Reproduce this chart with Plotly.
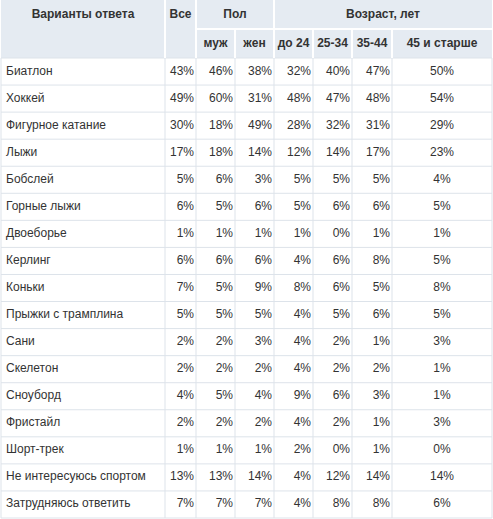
import plotly.graph_objects as go

answers = ["Биатлон", "Хоккей", "Фигурное катание", "Лыжи", "Бобслей", "Горные лыжи",
           "Двоеборье", "Керлинг", "Коньки", "Прыжки с трамплина", "Сани", "Скелетон",
           "Сноуборд", "Фристайл", "Шорт-трек", "Не интересуюсь спортом", "Затрудняюсь ответить"]
vse = [43, 49, 30, 17, 5, 6, 1, 6, 7, 5, 2, 2, 4, 2, 1, 13, 7]
muzh = [46, 60, 18, 18, 6, 5, 1, 6, 5, 5, 2, 2, 5, 2, 1, 13, 7]
zhen = [38, 31, 49, 14, 3, 6, 1, 6, 9, 5, 3, 2, 4, 2, 1, 14, 7]
do24 = [32, 48, 28, 12, 5, 5, 1, 4, 8, 4, 4, 4, 9, 4, 2, 4, 4]
a25_34 = [40, 47, 32, 14, 5, 6, 0, 6, 6, 5, 2, 2, 6, 2, 0, 12, 8]
a35_44 = [47, 48, 31, 17, 5, 6, 1, 8, 5, 6, 1, 2, 3, 1, 1, 14, 8]
a45 = [50, 54, 29, 23, 4, 5, 1, 5, 8, 5, 3, 1, 1, 3, 0, 14, 6]

sub_labels = ["муж", "жен", "до 24", "25-34", "35-44", "45 и старше"]
value_cols = [vse, muzh, zhen, do24, a25_34, a35_44, a45]

# column edges in pixels
edges = [1, 165, 196, 235, 274, 313, 352, 392, 492]
H1, H2 = 29, 58
row_h = (518 - H2) / len(answers)
row_mid = [H2 + row_h * (i + 0.5) for i in range(len(answers))]

grid = "#dde3ea"
text_col = "#333333"
fnt = "Liberation Sans, Arial"

shapes = [dict(type="rect", x0=edges[0], x1=edges[-1], y0=0, y1=H2,
               fillcolor="#e5ebf2", line_width=0, layer="below")]
# horizontal lines
for y in [H2 + row_h * i for i in range(len(answers) + 1)]:
    shapes.append(dict(type="line", x0=edges[0], x1=edges[-1], y0=y, y1=y, line=dict(color=grid, width=1)))
shapes.append(dict(type="line", x0=edges[2], x1=edges[-1], y0=H1, y1=H1, line=dict(color="white", width=2)))
# vertical lines
for x in edges:
    shapes.append(dict(type="line", x0=x, x1=x, y0=H2, y1=518, line=dict(color=grid, width=1)))
# white separators in header
for i, x in enumerate(edges[1:-1], start=1):
    y0 = H1 if i in (3, 5, 6, 7) else 0
    shapes.append(dict(type="line", x0=x, x1=x, y0=y0, y1=H2, line=dict(color="white", width=2)))

fig = go.Figure()
# header
hx = [(edges[0] + edges[1]) / 2, (edges[1] + edges[2]) / 2, (edges[2] + edges[4]) / 2, (edges[4] + edges[8]) / 2]
fig.add_trace(go.Scatter(x=hx, y=[15] * 4, mode="text",
                         text=["<b>Варианты ответа</b>", "<b>Все</b>", "<b>Пол</b>", "<b>Возраст, лет</b>"],
                         textfont=dict(family=fnt, size=12, color=text_col), hoverinfo="skip"))
sx = [(edges[i] + edges[i + 1]) / 2 for i in range(2, 8)]
fig.add_trace(go.Scatter(x=sx, y=[44] * 6, mode="text", text=["<b>%s</b>" % s for s in sub_labels],
                         textfont=dict(family=fnt, size=12, color=text_col), hoverinfo="skip"))
# body
fig.add_trace(go.Scatter(x=[edges[0] + 5] * len(answers), y=row_mid, mode="text", text=answers,
                         textposition="middle right", textfont=dict(family=fnt, size=12, color=text_col),
                         hoverinfo="skip"))
for c, vals in enumerate(value_cols):
    if c < 6:
        x = edges[c + 2] - 2
        pos = "middle left"
    else:
        x = (edges[c + 1] + edges[c + 2]) / 2
        pos = "middle center"
    fig.add_trace(go.Scatter(x=[x] * len(vals), y=row_mid, mode="text", text=["%d%%" % v for v in vals],
                             textposition=pos, textfont=dict(family=fnt, size=12, color=text_col),
                             hoverinfo="skip"))

fig.update_layout(width=493, height=519, margin=dict(l=0, r=0, t=0, b=0), showlegend=False,
                  plot_bgcolor="white", paper_bgcolor="white", shapes=shapes,
                  xaxis=dict(range=[0, 493], visible=False, fixedrange=True),
                  yaxis=dict(range=[519, 0], visible=False, fixedrange=True))
fig.write_html("out.html", config={"displayModeBar": False},
               post_script="document.body.style.margin='0';")
